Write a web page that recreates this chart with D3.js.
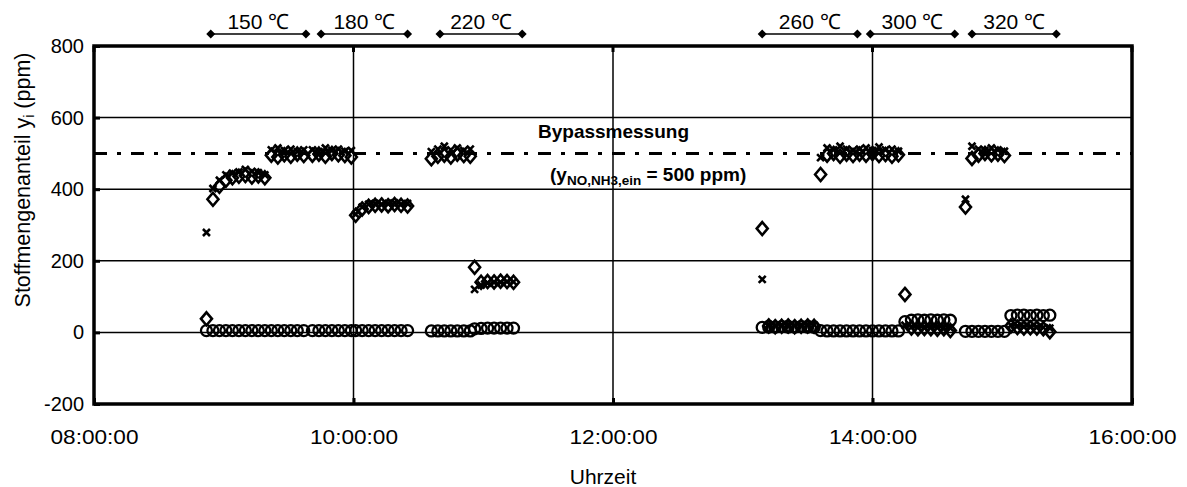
<!DOCTYPE html>
<html>
<head>
<meta charset="utf-8">
<script src="https://cdn.jsdelivr.net/npm/d3@7"></script>
<style>
  body { margin: 0; background: #fff; }
  text { font-family: "Liberation Sans", Arial, sans-serif; fill: #000; }
</style>
</head>
<body>
<div class="chart"></div>
<script>
// Stoffmengenanteile ueber der Uhrzeit

// Messzeitpunkte und Werte (null = kein Punkt)
var zeit = [
    "08:52", "08:55", "08:58", "09:01", "09:04", "09:07", "09:10", "09:13", "09:16", "09:19", "09:22", "09:25", "09:28", "09:31", "09:34", "09:37",
    "09:41", "09:44", "09:47", "09:50", "09:53", "09:56", "09:59", "10:01", "10:04", "10:07", "10:10", "10:13", "10:16", "10:19", "10:22", "10:25",
    "10:36", "10:39", "10:42", "10:45", "10:48", "10:51", "10:54", "10:56", "10:59", "11:02", "11:05", "11:08", "11:11", "11:14",
    "13:09", "13:12", "13:15", "13:18", "13:21", "13:24", "13:27", "13:30", "13:33", "13:36", "13:39", "13:42", "13:45", "13:48", "13:51",
    "13:54", "13:57", "14:00", "14:03", "14:06", "14:09", "14:12", "14:15", "14:18", "14:21", "14:24", "14:27", "14:30", "14:33", "14:36",
    "14:43", "14:46", "14:49", "14:52", "14:55", "14:58", "15:01", "15:04", "15:07", "15:10", "15:13", "15:16", "15:19", "15:22"
];

var rauteWerte = [
    38, 372, 408, 425, 432, 436, 438, 434, 437, 432, 495, 490, 496, 492, 498, 494,
    495, 498, 492, 500, 496, 494, 490, 327, 345, 352, 355, 356, 354, 357, 355, 353,
    485, 492, 495, 490, 498, 494, 492, 182, 140, 142, 141, 143, 142, 140,
    290, 18, 16, 17, 18, 16, 17, 18, 17, 441, 495, 500, 492, 498, 494,
    498, 495, 500, 494, 497, 492, 496, 106, 12, 10, 11, 10, 9, 10, 5,
    350, 486, 495, 500, 496, 498, 494, 18, 14, 12, 13, 12, 10, 2
];

var kreuzWerte = [
    279, 402, 425, 440, 445, 448, 455, 450, 446, 440, 510, 515, 508, 512, 505, 510,
    510, 505, 515, 508, 512, 506, 508, 330, 350, 358, 360, 358, 360, 362, 358, 360,
    505, 512, 520, 510, 515, 508, 512, 120, 132, 138, 140, 140, 142, 141,
    148, 22, 20, 21, 22, 20, 21, 22, 21, 488, 515, 510, 520, 512, 508,
    512, 515, 508, 518, 510, 512, 506, 20, 15, 14, 13, 15, 14, 13, 12,
    372, 520, 512, 508, 515, 510, 506, 20, 18, 16, 17, 15, 14, 12
];

var kreisWerte = [
    5, 5, 5, 5, 5, 5, 5, 5, 5, 5, 5, 5, 5, 5, 5, 5,
    5, 5, 5, 5, 5, 5, 5, 5, 5, 5, 5, 5, 5, 5, 5, 5,
    4, 4, 4, 4, 4, 4, 4, 10, 11, 12, 12, 12, 12, 12,
    14, 15, 15, 16, 15, 15, 16, 15, 14, 5, 4, 4, 4, 4, 4,
    4, 4, 4, 4, 4, 4, 4, 30, 34, 35, 34, 35, 34, 35, 34,
    3, 3, 3, 3, 3, 3, 3, 47, 48, 48, 47, 48, 47, 48
];

// Temperaturstufen oben
var tempLabels = ["150 \u2103", "180 \u2103", "220 \u2103", "260 \u2103", "300 \u2103", "320 \u2103"];
var tempStart = ["08:54", "09:45", "10:40", "13:09", "13:59", "14:46"];
var tempEnde = ["09:38", "10:25", "11:18", "13:53", "14:38", "15:25"];

var xTicks = ["08:00", "10:00", "12:00", "14:00", "16:00"];
var yTicks = [-200, 0, 200, 400, 600, 800];
var bypassWert = 500;

var svgWidth = 1187;
var svgHeight = 487;
var margin = { top: 46, right: 55, bottom: 83, left: 94 };
var width = svgWidth - margin.left - margin.right;
var height = svgHeight - margin.top - margin.bottom;

var parseTime = d3.timeParse("%H:%M");

var svg = d3.select(".chart")
    .append("svg")
    .attr("width", svgWidth)
    .attr("height", svgHeight);

var chart = svg.append("g")
    .attr("transform", "translate(" + margin.left + "," + margin.top + ")");

var xScale = d3.scaleTime()
    .domain([parseTime("08:00"), parseTime("16:00")])
    .range([0, width]);

var yScale = d3.scaleLinear()
    .domain([-200, 800])
    .range([height, 0]);

// Gitterlinien
chart.selectAll(".hgrid")
    .data([0, 200, 400, 600])
    .enter()
    .append("line")
    .attr("x1", 0)
    .attr("x2", width)
    .attr("y1", function(d) { return yScale(d); })
    .attr("y2", function(d) { return yScale(d); })
    .attr("stroke", "#000")
    .attr("stroke-width", 1.5);

chart.selectAll(".vgrid")
    .data(["10:00", "12:00", "14:00"])
    .enter()
    .append("line")
    .attr("x1", function(d) { return xScale(parseTime(d)); })
    .attr("x2", function(d) { return xScale(parseTime(d)); })
    .attr("y1", 0)
    .attr("y2", height)
    .attr("stroke", "#000")
    .attr("stroke-width", 1.5);

// Bypass-Linie
chart.append("line")
    .attr("x1", 0)
    .attr("x2", width)
    .attr("y1", yScale(bypassWert))
    .attr("y2", yScale(bypassWert))
    .attr("stroke", "#000")
    .attr("stroke-width", 3)
    .attr("stroke-dasharray", "13,10,4,10");

chart.append("text")
    .attr("x", 538 - margin.left)
    .attr("y", 138 - margin.top)
    .style("font-size", "19px")
    .style("font-weight", "bold")
    .text("Bypassmessung");

var formel = chart.append("text")
    .attr("x", 550 - margin.left)
    .attr("y", 181 - margin.top)
    .style("font-size", "19px")
    .style("font-weight", "bold");
formel.append("tspan").text("(y");
formel.append("tspan").attr("dy", 4).style("font-size", "13.5px").text("NO,NH3,ein");
formel.append("tspan").attr("dy", -4).text(" = 500 ppm)");

// Messpunkte
var punkte = zeit.map(function(t, i) {
    return { t: parseTime(t), raute: rauteWerte[i], kreuz: kreuzWerte[i], kreis: kreisWerte[i] };
});

chart.selectAll(".kreis")
    .data(punkte.filter(function(d) { return d.kreis != null; }))
    .enter()
    .append("circle")
    .attr("cx", function(d) { return xScale(d.t); })
    .attr("cy", function(d) { return yScale(d.kreis); })
    .attr("r", 5.5)
    .attr("fill", "none")
    .attr("stroke", "#000")
    .attr("stroke-width", 2.3);

chart.selectAll(".raute")
    .data(punkte.filter(function(d) { return d.raute != null; }))
    .enter()
    .append("path")
    .attr("d", "M0,-6.5L5.5,0L0,6.5L-5.5,0Z")
    .attr("transform", function(d) { return "translate(" + xScale(d.t) + "," + yScale(d.raute) + ")"; })
    .attr("fill", "none")
    .attr("stroke", "#000")
    .attr("stroke-width", 2.6);

chart.selectAll(".kreuz")
    .data(punkte.filter(function(d) { return d.kreuz != null; }))
    .enter()
    .append("path")
    .attr("d", "M-3.5,-3.5L3.5,3.5M-3.5,3.5L3.5,-3.5")
    .attr("transform", function(d) { return "translate(" + xScale(d.t) + "," + yScale(d.kreuz) + ")"; })
    .attr("fill", "none")
    .attr("stroke", "#000")
    .attr("stroke-width", 2.6);

// Achsen
var bottomAxis = d3.axisBottom(xScale)
    .tickValues(xTicks.map(parseTime))
    .tickFormat(d3.timeFormat("%H:%M:%S"))
    .tickSizeInner(-6)
    .tickSizeOuter(0)
    .tickPadding(26);

var leftAxis = d3.axisLeft(yScale)
    .tickValues(yTicks)
    .tickFormat(function(d) { return String(d); })
    .tickSizeInner(-6)
    .tickSizeOuter(0)
    .tickPadding(10);

var xAxisG = chart.append("g")
    .attr("transform", "translate(0," + height + ")")
    .call(bottomAxis);

var yAxisG = chart.append("g")
    .call(leftAxis);

[xAxisG, yAxisG].forEach(function(g) {
    g.select(".domain").remove();
    g.selectAll(".tick line").attr("stroke", "#000").attr("stroke-width", 3);
    g.selectAll(".tick text")
        .style("font-size", "20px")
        .style("font-family", "'Liberation Sans', Arial, sans-serif")
        .attr("fill", "#000");
});

xAxisG.selectAll(".tick text")
    .attr("textLength", 88)
    .attr("lengthAdjust", "spacingAndGlyphs");

// kleine Striche oben
chart.selectAll(".toptick")
    .data(xTicks.map(parseTime))
    .enter()
    .append("line")
    .attr("x1", function(d) { return xScale(d); })
    .attr("x2", function(d) { return xScale(d); })
    .attr("y1", 0)
    .attr("y2", 6)
    .attr("stroke", "#000")
    .attr("stroke-width", 3);

// Rahmen
chart.append("rect")
    .attr("x", 0)
    .attr("y", 0)
    .attr("width", width)
    .attr("height", height)
    .attr("fill", "none")
    .attr("stroke", "#000")
    .attr("stroke-width", 3.5);

// Temperaturstufen
var stufen = tempLabels.map(function(l, i) {
    return { label: l, a: parseTime(tempStart[i]), b: parseTime(tempEnde[i]) };
});

var stufeG = chart.selectAll(".stufe")
    .data(stufen)
    .enter()
    .append("g");

stufeG.append("line")
    .attr("x1", function(d) { return xScale(d.a); })
    .attr("x2", function(d) { return xScale(d.b); })
    .attr("y1", -12)
    .attr("y2", -12)
    .attr("stroke", "#000")
    .attr("stroke-width", 1.5);

stufeG.selectAll(".ende")
    .data(function(d) { return [d.a, d.b]; })
    .enter()
    .append("path")
    .attr("d", "M0,-4.5L4.5,0L0,4.5L-4.5,0Z")
    .attr("transform", function(d) { return "translate(" + xScale(d) + ",-12)"; })
    .attr("fill", "#000");

stufeG.append("text")
    .attr("x", function(d) { return (xScale(d.a) + xScale(d.b)) / 2; })
    .attr("y", -17)
    .attr("text-anchor", "middle")
    .style("font-size", "21px")
    .text(function(d) { return d.label; });

// Achsentitel
chart.append("text")
    .attr("transform", "rotate(-90)")
    .attr("x", -(180 - margin.top))
    .attr("y", 30 - margin.left)
    .attr("text-anchor", "middle")
    .style("font-size", "21.5px")
    .html("Stoffmengenanteil y<tspan dy='4' style='font-size:14px'>i</tspan><tspan dy='-4'> (ppm)</tspan>");

chart.append("text")
    .attr("x", 603 - margin.left)
    .attr("y", 484 - margin.top)
    .attr("text-anchor", "middle")
    .style("font-size", "21px")
    .text("Uhrzeit");
</script>
</body>
</html>
